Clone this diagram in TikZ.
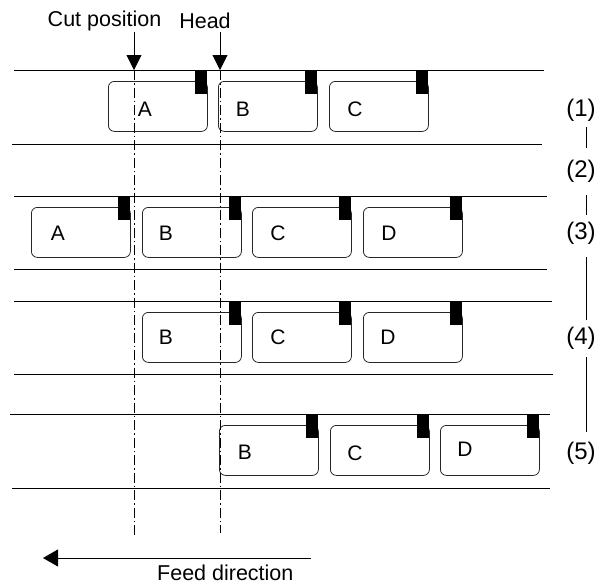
\documentclass[tikz,border=0pt]{standalone}
\usepackage{fontspec}
\setmainfont{Liberation Sans}
\usetikzlibrary{arrows.meta}
\begin{document}
\begin{tikzpicture}[x=1pt,y=-1pt,
  strip/.style={draw=black, line width=0.8pt},
  card/.style={draw=black!85, line width=0.8pt, rounded corners=6pt, minimum width=99pt, minimum height=50pt, inner sep=0pt, anchor=north west},
  tab/.style={fill=black, minimum width=12pt, minimum height=24pt, inner sep=0pt, anchor=north east},
  lab/.style={font=\fontsize{21}{25}\selectfont, inner sep=0pt},
  head/.style={font=\fontsize{21.5}{25}\selectfont, inner sep=0pt},
  stage/.style={font=\fontsize{24}{28}\selectfont, inner sep=0pt},
  axis/.style={draw=black, line width=0.7pt, dash pattern=on 10pt off 3pt on 1.5pt off 3pt},
  pointer/.style={draw=black, line width=0.8pt, -{Triangle[width=15pt,length=15pt]}},
  feed/.style={draw=black, line width=1pt, -{Triangle[width=17pt,length=15pt]}},
  link/.style={draw=black, line width=0.8pt}]
\useasboundingbox (0,0) rectangle (603,584);
\newcommand\mycard[6]{% name, left x, strip top y, label, label dx, label dy
  \node[card] (#1) at (#2,#3+11) {};
  \node[tab] (#1t) at (#2+99,#3) {};
  \node[lab] (#1l) at (#2+#5,#3+#6) {#4};}
% headings
\node[head] (cutlab) at (104.5,21) {Cut position};
\node[head] (headlab) at (205,21) {Head};
\coordinate (cutT) at (134,32);
\coordinate (cutB) at (134,70);
\coordinate (cutE) at (134,535);
\coordinate (headT) at (220,32);
\coordinate (headB) at (220,70);
\coordinate (headE) at (220,533);
% strips
\draw[strip] (14,70) -- (544,70);
\draw[strip] (12,144) -- (542,144);
\draw[strip] (14,196) -- (547,196);
\draw[strip] (14,269) -- (547,269);
\draw[strip] (14,301) -- (552,301);
\draw[strip] (14,374) -- (553,374);
\draw[strip] (10,414) -- (550,414);
\draw[strip] (12,488) -- (550,488);
% strip 1
\mycard{a1}{108}{70}{A}{37}{39}
\mycard{b1}{218}{70}{B}{25}{39}
\mycard{c1}{329}{70}{C}{26}{39}
% strip 2
\mycard{a2}{31}{196}{A}{27}{37}
\mycard{b2}{142}{196}{B}{24}{37}
\mycard{c2}{252}{196}{C}{26}{37}
\mycard{d2}{363}{196}{D}{26}{37}
% strip 3
\mycard{b3}{142}{301}{B}{24}{36}
\mycard{c3}{252}{301}{C}{26}{36}
\mycard{d3}{363}{301}{D}{25}{36}
% strip 4
\mycard{b4}{219}{414}{B}{26}{38}
\mycard{c4}{330}{414}{C}{25}{39}
\mycard{d4}{440}{414}{D}{25}{35}
% pointers and axes
\draw[pointer] (cutT) -- (cutB);
\draw[pointer] (headT) -- (headB);
\draw[axis] (cutB) -- (cutE);
\draw[axis] (headB) -- (headE);
% stages
\node[stage] (s1) at (581,110) {(1)};
\node[stage] (s2) at (581,171) {(2)};
\node[stage] (s3) at (581,233) {(3)};
\node[stage] (s4) at (581,338) {(4)};
\node[stage] (s5) at (581,453) {(5)};
\coordinate (l1a) at (586,127); \coordinate (l1b) at (586,148);
\coordinate (l2a) at (586,195); \coordinate (l2b) at (586,215);
\coordinate (l3a) at (586,257); \coordinate (l3b) at (586,320);
\coordinate (l4a) at (586,357); \coordinate (l4b) at (586,432);
\draw[link] (l1a) -- (l1b);
\draw[link] (l2a) -- (l2b);
\draw[link] (l3a) -- (l3b);
\draw[link] (l4a) -- (l4b);
% feed direction
\coordinate (feedS) at (311,558);
\coordinate (feedE) at (43,558);
\draw[feed] (feedS) -- (feedE);
\node[head, anchor=base west] (feedlab) at (157,580) {Feed direction};
\end{tikzpicture}
\end{document}
